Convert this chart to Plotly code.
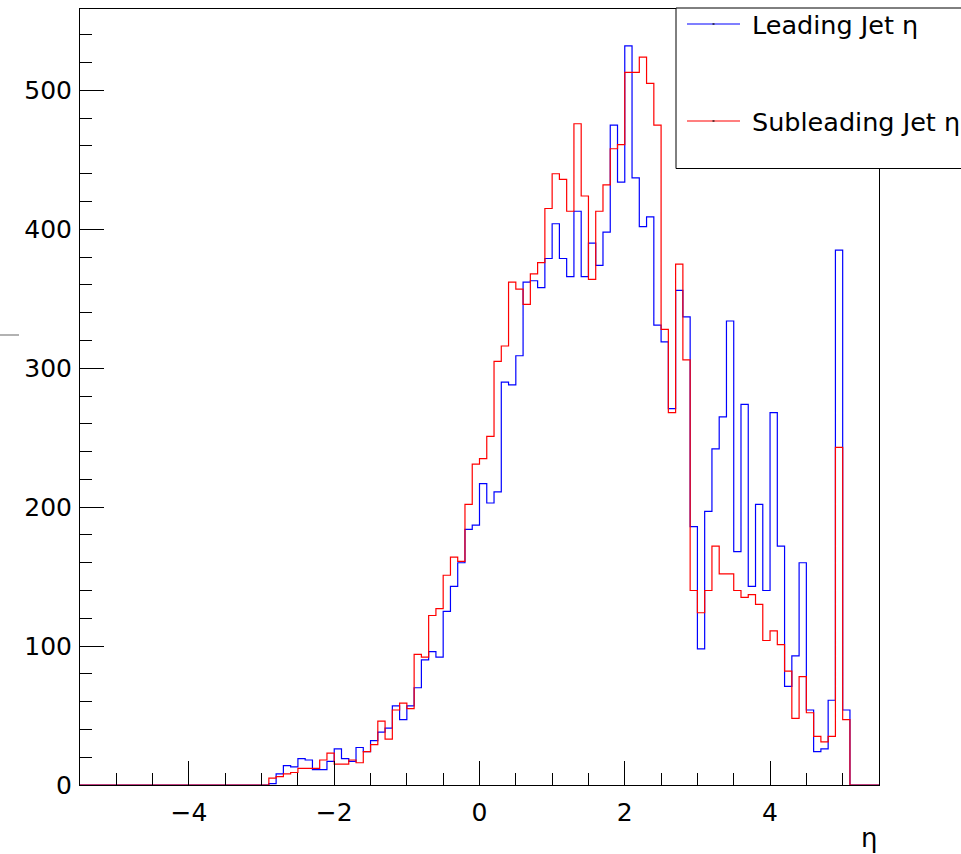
import numpy as np
import plotly.graph_objects as go

# Histogram binning: 110 bins of width 0.1 over [-5.5, 5.5]
x_lo, x_hi, bin_width = -5.5, 5.5, 0.1
first_filled_bin = -3.0  # left edge of the first bin listed below

# Bin contents from eta = -3.0 to 5.1 (81 bins)
leading_eta = [
    0, 1, 8, 14, 13, 19, 18, 11, 11, 17,
    26, 19, 17, 27, 24, 32, 38, 41, 57, 47,
    57, 70, 90, 96, 92, 125, 143, 160, 184, 187,
    217, 203, 211, 290, 288, 309, 362, 363, 358, 379,
    404, 379, 366, 413, 366, 390, 374, 398, 475, 434,
    532, 437, 402, 409, 331, 319, 271, 356, 337, 186,
    98, 197, 242, 265, 334, 168, 274, 143, 202, 140,
    268, 172, 71, 93, 160, 54, 24, 26, 61, 385,
    54,
]
subleading_eta = [
    0, 5, 6, 8, 9, 12, 12, 12, 18, 23,
    15, 15, 18, 16, 24, 29, 46, 33, 54, 59,
    55, 94, 92, 122, 127, 151, 164, 161, 202, 231,
    235, 251, 305, 316, 362, 357, 346, 368, 376, 415,
    440, 436, 413, 476, 424, 364, 413, 432, 458, 461,
    513, 513, 524, 505, 475, 328, 268, 375, 306, 140,
    124, 140, 172, 152, 152, 140, 135, 137, 130, 104,
    111, 101, 82, 48, 78, 52, 35, 31, 35, 243,
    47,
]

x_tick_vals = [-4, -2, 0, 2, 4]
y_tick_vals = [0, 100, 200, 300, 400, 500]

n_bins = int(round((x_hi - x_lo) / bin_width))
edges = np.round(x_lo + bin_width * np.arange(n_bins + 1), 6)


def full_contents(values):
    out = np.zeros(n_bins)
    start = int(round((first_filled_bin - x_lo) / bin_width))
    out[start:start + len(values)] = values
    return out


def step_xy(values):
    c = full_contents(values)
    return edges, np.append(c, c[-1])


y_max = 1.05 * max(max(leading_eta), max(subleading_eta))

fig = go.Figure()
for vals, color, name in [
    (leading_eta, "#0000ff", "Leading Jet η"),
    (subleading_eta, "#ff0000", "Subleading Jet η"),
]:
    xs, ys = step_xy(vals)
    fig.add_trace(go.Scatter(
        x=xs, y=ys, mode="lines", line=dict(color=color, width=1.2, shape="hv"),
        name=name, showlegend=False, hoverinfo="skip",
    ))

# Pixel geometry of the frame
W, H = 961, 854
L, R, T, B = 80, 879, 9, 785


def px(x):
    return (x - L) / (R - L)


def py(y):
    return (B - y) / (B - T)


font_family = "DejaVu Sans, Liberation Sans, Arial, sans-serif"

fig.update_layout(
    width=W, height=H,
    margin=dict(l=L, r=W - R, t=T, b=H - B, pad=0),
    plot_bgcolor="white", paper_bgcolor="white",
    font=dict(family=font_family, size=25, color="black"),
    xaxis=dict(
        range=[x_lo, x_hi], showgrid=False, zeroline=False,
        showline=True, mirror=True, linecolor="black", linewidth=1,
        ticks="inside", ticklen=24, tickwidth=1, tickcolor="black",
        tickvals=x_tick_vals, ticktext=[("−" if v < 0 else "") + str(abs(v)) for v in x_tick_vals],
        tickfont=dict(size=25), ticklabelstandoff=5,
        minor=dict(dtick=0.5, tick0=0, ticks="inside", ticklen=12, tickcolor="black", tickwidth=1),
    ),
    yaxis=dict(
        range=[0, y_max], showgrid=False, zeroline=False,
        showline=True, mirror=True, linecolor="black", linewidth=1,
        ticks="inside", ticklen=24, tickwidth=1, tickcolor="black",
        tickvals=y_tick_vals, tickfont=dict(size=25), ticklabelstandoff=2,
        minor=dict(dtick=20, tick0=0, ticks="inside", ticklen=12, tickcolor="black", tickwidth=1),
    ),
)

shapes = []
annotations = []

# Legend box
shapes.append(dict(type="rect", xref="paper", yref="paper",
                   x0=px(676), x1=px(963), y0=py(168.5), y1=py(8),
                   line=dict(color="black", width=1), fillcolor="white", layer="above"))
for y_row, color, label in [(24, "#0000ff", "Leading Jet η"), (121, "#ff0000", "Subleading Jet η")]:
    shapes.append(dict(type="line", xref="paper", yref="paper",
                       x0=px(687), x1=px(740), y0=py(y_row), y1=py(y_row),
                       line=dict(color=color, width=1.2), layer="above"))
    shapes.append(dict(type="line", xref="paper", yref="paper",
                       x0=px(712.5), x1=px(714.5), y0=py(y_row), y1=py(y_row),
                       line=dict(color="black", width=1.2), layer="above"))
    annotations.append(dict(xref="paper", yref="paper", x=px(750), y=py(y_row + 1),
                            xanchor="left", yanchor="middle", showarrow=False,
                            text=label, font=dict(size=25.5, color="black")))

# Axis title
annotations.append(dict(xref="paper", yref="paper", x=px(R), y=py(838),
                        xanchor="right", yanchor="middle", showarrow=False,
                        text="η", font=dict(size=26, color="black")))

# Short grey stub at the left border
shapes.append(dict(type="line", xref="paper", yref="paper",
                   x0=px(0), x1=px(19), y0=py(335), y1=py(335),
                   line=dict(color="#999999", width=1.5)))

fig.update_layout(shapes=shapes, annotations=annotations)
fig.write_html("out.html")
